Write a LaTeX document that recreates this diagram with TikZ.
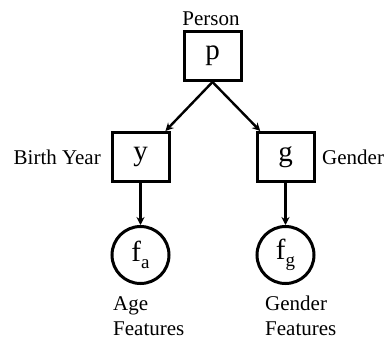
\documentclass[tikz,border=0pt]{standalone}
\usepackage{fontspec}
\setmainfont{Liberation Serif}
\usetikzlibrary{arrows.meta}
\begin{document}
\begin{tikzpicture}[x=1pt,y=-1pt,
  boxnode/.style={draw,line width=3pt,minimum width=57pt,minimum height=49pt,inner sep=0pt,font=\fontsize{29}{30}\selectfont},
  circnode/.style={draw,circle,line width=3pt,minimum size=57pt,inner sep=0pt,font=\fontsize{29}{30}\selectfont},
  lbl/.style={font=\fontsize{21}{25}\selectfont,inner sep=0pt},
  arr/.style={line width=2.4pt,-{Stealth[length=8pt,width=8pt]}}]
\useasboundingbox (0,0) rectangle (384,341);
\node[boxnode] (p) at (212.5,56) {p};
\node[boxnode] (y) at (140.5,157) {y};
\node[boxnode] (g) at (285.5,157) {g};
\node[circnode] (fa) at (140.5,255) {f\raisebox{-0.22em}{\fontsize{19}{20}\selectfont a}};
\node[circnode] (fg) at (285.5,255) {f\raisebox{-0.22em}{\fontsize{19}{20}\selectfont g}};
\node[lbl,anchor=base] (lp) at (211,25) {Person};
\node[lbl,anchor=base east] (ly) at (101,164) {Birth Year};
\node[lbl,anchor=base west] (lg) at (322,164) {Gender};
\node[lbl,anchor=base west] (la) at (113,310) {Age};
\node[lbl,anchor=base west] (la2) at (113,335) {Features};
\node[lbl,anchor=base west] (lgf) at (265,310) {Gender};
\node[lbl,anchor=base west] (lgf2) at (265,335) {Features};
\draw[arr] (p.south) -- (y);
\draw[arr] (p.south) -- (g);
\draw[arr] (y) -- (fa);
\draw[arr] (g) -- (fg);
\end{tikzpicture}
\end{document}
